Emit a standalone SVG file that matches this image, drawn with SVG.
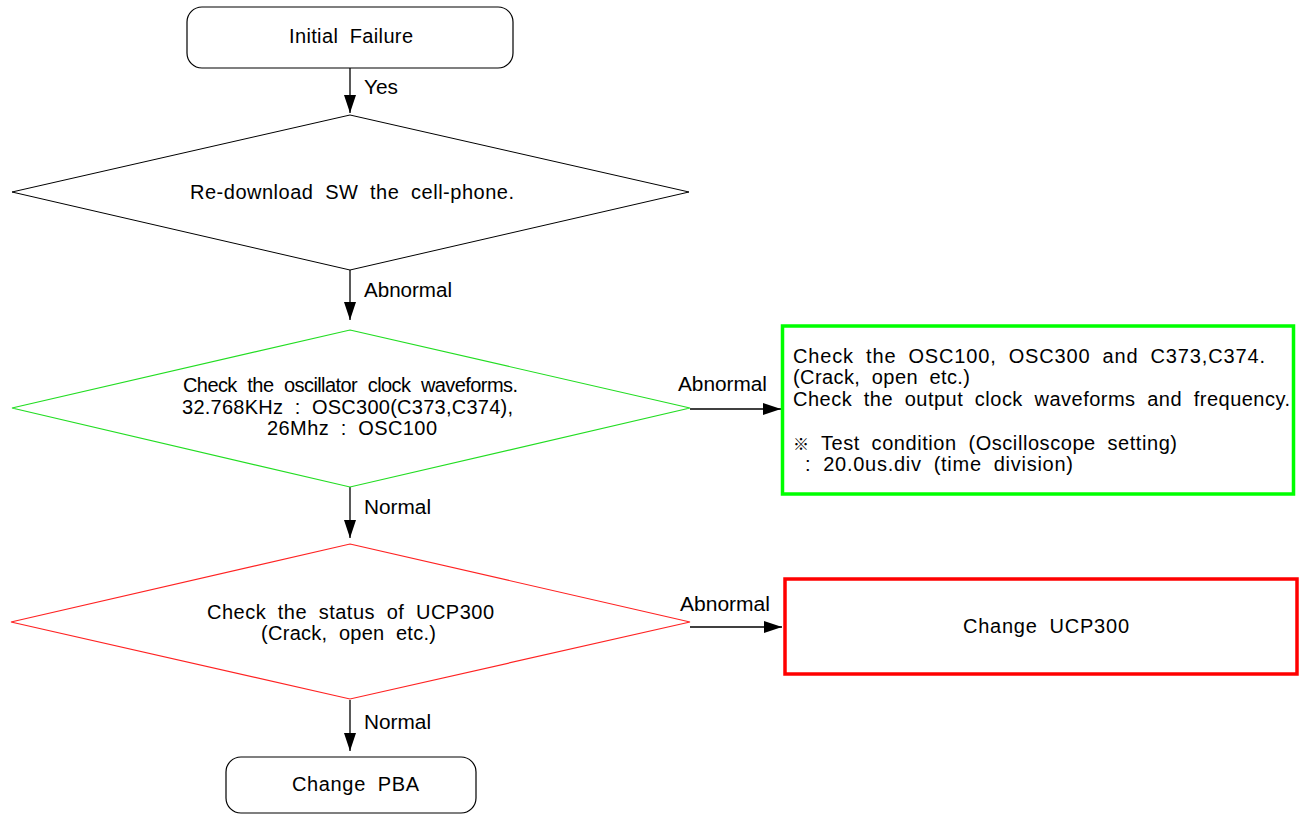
<svg xmlns="http://www.w3.org/2000/svg" width="1301" height="815" viewBox="0 0 1301 815">
<style>
text{font-family:"Liberation Sans",Arial,sans-serif;font-size:20px;fill:#000;word-spacing:5.6px}
.term{fill:#fff;stroke:#000;stroke-width:1.2}
.dia{fill:#fff;stroke:#000;stroke-width:1}
.dg{fill:#fff;stroke:#22dd22;stroke-width:1.2}
.dr{fill:#fff;stroke:#ff2222;stroke-width:1.2}
.bg{fill:#fff;stroke:#00ff00;stroke-width:3.5}
.br{fill:#fff;stroke:#ff0000;stroke-width:3.5}
.conn{stroke:#000;stroke-width:1.3;fill:none}
</style>
<defs>
<marker id="ah" markerUnits="userSpaceOnUse" markerWidth="20" markerHeight="12" refX="18" refY="6" orient="auto">
<path d="M0,0 L18,6 L0,12 Z" fill="#000"/>
</marker>
</defs>
<rect width="1301" height="815" fill="#fff"/>

<g id="connectors">
<line class="conn" x1="350" y1="68" x2="350" y2="113" marker-end="url(#ah)"/>
<line class="conn" x1="350" y1="270" x2="350" y2="320" marker-end="url(#ah)"/>
<line class="conn" x1="690" y1="409" x2="781" y2="409" marker-end="url(#ah)"/>
<line class="conn" x1="350" y1="487" x2="350" y2="538" marker-end="url(#ah)"/>
<line class="conn" x1="690" y1="627" x2="782" y2="627" marker-end="url(#ah)"/>
<line class="conn" x1="350" y1="700" x2="350" y2="751" marker-end="url(#ah)"/>
<text x="364" y="94" textLength="34" lengthAdjust="spacingAndGlyphs">Yes</text>
<text x="364" y="297" textLength="88" lengthAdjust="spacingAndGlyphs">Abnormal</text>
<text x="678" y="391" textLength="89" lengthAdjust="spacingAndGlyphs">Abnormal</text>
<text x="364" y="514" textLength="67" lengthAdjust="spacingAndGlyphs">Normal</text>
<text x="680" y="611" textLength="90" lengthAdjust="spacingAndGlyphs">Abnormal</text>
<text x="364" y="729" textLength="67" lengthAdjust="spacingAndGlyphs">Normal</text>
</g>

<g id="initial-failure">
<rect class="term" x="187" y="7" width="326" height="61" rx="15" ry="15"/>
<text x="289" y="43" textLength="124">Initial Failure</text>
</g>

<g id="redownload">
<polygon class="dia" points="350,115 689,192 350,270 12,192"/>
<text x="190" y="199" textLength="324">Re-download SW the cell-phone.</text>
</g>

<g id="check-oscillator">
<polygon class="dg" points="350,330 690,408 350,487 12,408"/>
<text x="183" y="392" textLength="335">Check the oscillator clock waveforms.</text>
<text x="182" y="414" textLength="331">32.768KHz : OSC300(C373,C374),</text>
<text x="267" y="435" textLength="170">26Mhz : OSC100</text>
</g>

<g id="check-osc-detail">
<rect class="bg" x="782.5" y="326" width="511" height="168"/>
<text x="793" y="363" textLength="472">Check the OSC100, OSC300 and C373,C374.</text>
<text x="793" y="384" textLength="177">(Crack, open etc.)</text>
<text x="793" y="406" textLength="497">Check the output clock waveforms and frequency.</text>
<text x="793" y="450" textLength="384"><tspan font-family="'Noto Sans CJK KR',sans-serif" font-size="16">※</tspan> Test condition (Oscilloscope setting)</text>
<text x="805" y="471" textLength="268">: 20.0us.div (time division)</text>
</g>

<g id="check-ucp300">
<polygon class="dr" points="350,544 690,622 350,699 11,622"/>
<text x="207" y="619" textLength="287">Check the status of UCP300</text>
<text x="261" y="640" textLength="175">(Crack, open etc.)</text>
</g>

<g id="change-ucp300">
<rect class="br" x="785" y="579" width="512" height="95"/>
<text x="963" y="633" textLength="166">Change UCP300</text>
</g>

<g id="change-pba">
<rect class="term" x="226" y="757" width="250" height="56" rx="15" ry="15"/>
<text x="292" y="791" textLength="127">Change PBA</text>
</g>
</svg>
